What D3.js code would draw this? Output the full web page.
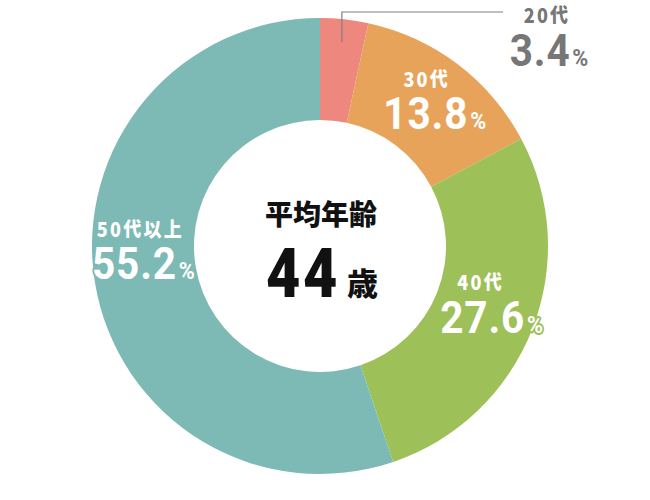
<!DOCTYPE html>
<html>
<head>
<meta charset="utf-8">
<script src="https://cdn.jsdelivr.net/npm/d3@7"></script>
<style>
  body { margin: 0; background: #fff; }
  svg { display: block; }
</style>
</head>
<body>
<svg id="chart" width="650" height="500"></svg>
<script>
// age groups and their share (%)
const categories = ['20代', '30代', '40代', '50代以上']
const shares = [3.4, 13.8, 27.6, 55.2]
const colors = ['#ee877e', '#e8a35b', '#9dc158', '#7dbab5']
const centerTitle = '平均年齢'
const averageAge = 44

const width = 650
const height = 500
const cx = 320
const cy = 246
const outerR = 228
const innerR = 126

// label nudges from the arc centroid (name / value), 20代 is placed outside
const nudge = [
  null,
  { nx: 0, ny: -18, vx: 8, vy: 24 },
  { nx: -4, ny: -21, vx: 7, vy: 22 },
  { nx: -5, ny: -38, vx: -2, vy: 4 }
]

const data = categories.map((c, i) => ({ name: c, value: shares[i], color: colors[i] }))

const svg = d3.select('#chart')
const g = svg.append('g').attr('transform', `translate(${cx},${cy})`)

const pie = d3.pie().sort(null).value(d => d.value)
const arc = d3.arc().innerRadius(innerR).outerRadius(outerR)
const arcs = pie(data)

g.selectAll('path.slice')
  .data(arcs)
  .enter().append('path')
  .attr('class', 'slice')
  .attr('d', arc)
  .attr('fill', d => d.data.color)

const numFont = 'Roboto, "Noto Sans CJK JP", sans-serif'
const jpFont = '"Noto Sans CJK JP", sans-serif'

// name + percentage in one text block; scaleX narrows the digits a bit
function addLabel(parent, x, y, vx, vy, d, fill, stroke) {
  const sx = 0.9
  const t = parent.append('text')
    .attr('transform', `translate(${vx},${vy}) scale(${sx},1)`)
    .attr('text-anchor', 'middle')
    .attr('fill', fill)
    .attr('stroke', stroke).attr('stroke-width', stroke ? 4 : 0)
    .attr('stroke-linejoin', 'round')
    .style('paint-order', 'stroke')
  t.append('tspan')
    .attr('x', (x - vx) / sx).attr('y', y - vy)
    .attr('font-family', jpFont)
    .attr('font-weight', 900)
    .attr('font-size', 20)
    .attr('letter-spacing', 2.5)
    .attr('transform', null)
    .style('font-stretch', 'normal')
    .text(d.data.name)
  t.append('tspan')
    .attr('x', 0).attr('y', 0)
    .attr('font-family', numFont)
    .attr('font-weight', 700)
    .attr('font-size', 45).attr('letter-spacing', 1)
    .text(d3.format('.1f')(d.data.value))
  t.append('tspan')
    .attr('font-family', numFont)
    .attr('font-weight', 700)
    .attr('font-size', 24).attr('dx', 2)
    .text('%')
}

arcs.forEach((d, i) => {
  if (i === 0) {
    // small slice: leader line out to the top right
    const mid = (d.startAngle + d.endAngle) / 2
    const r0 = 205
    const x0 = r0 * Math.sin(mid)
    const y0 = -r0 * Math.cos(mid)
    const yTop = 12 - cy
    const xEnd = 503 - cx
    g.append('path')
      .attr('d', `M${x0},${y0}V${yTop}H${xEnd}`)
      .attr('fill', 'none')
      .attr('stroke', '#808080')
      .attr('stroke-width', 1.2)
    addLabel(g, 547 - cx, 23 - cy, 549 - cx, 66 - cy, d, '#777', null)
  } else {
    const [x, y] = arc.centroid(d)
    const n = nudge[i]
    addLabel(g, x + n.nx, y + n.ny, x + n.vx, y + n.vy, d, '#fff', d.data.color)
  }
})

// centre text
g.append('text')
  .attr('x', 1).attr('y', -21)
  .attr('text-anchor', 'middle')
  .attr('font-family', jpFont)
  .attr('font-weight', 900)
  .attr('font-size', 28)
  .attr('fill', '#111')
  .text(centerTitle)

g.append('text')
  .attr('transform', 'translate(20,51) scale(0.86,1)')
  .attr('text-anchor', 'end')
  .attr('font-family', numFont)
  .attr('font-weight', 900)
  .attr('font-size', 69)
  .attr('letter-spacing', 3)
  .attr('fill', '#111')
  .text(averageAge)

g.append('text')
  .attr('x', 27).attr('y', 49)
  .attr('font-family', jpFont)
  .attr('font-weight', 900)
  .attr('font-size', 31)
  .attr('fill', '#111')
  .text('歳')
</script>
</body>
</html>
